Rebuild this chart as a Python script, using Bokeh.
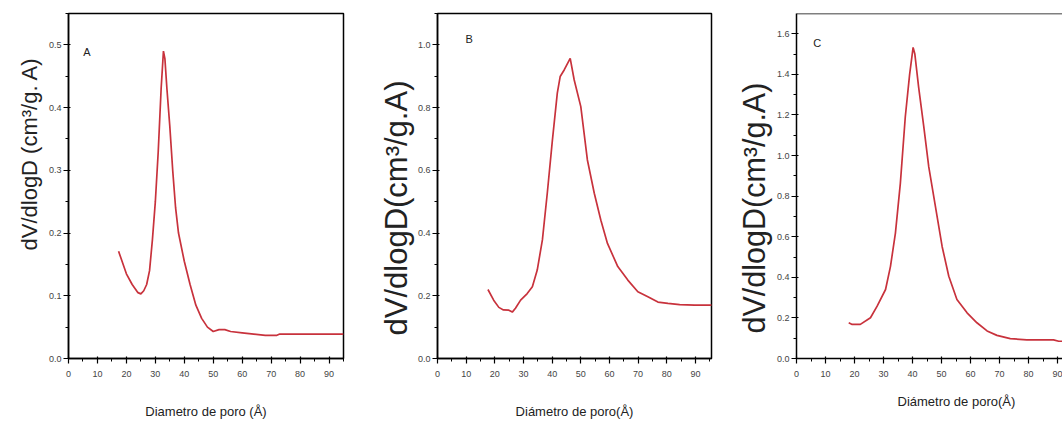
from bokeh.plotting import figure
from bokeh.models import SingleIntervalTicker, Range1d, Label, Span, PrintfTickFormatter, Title
from bokeh.layouts import row
from bokeh.embed import file_html
from bokeh.resources import INLINE

# ---- data ----
xA = [17.3, 18.5, 20, 22, 24, 25, 26, 27, 28, 29, 30, 31, 32, 32.8, 33.3, 34, 35, 36, 37, 38,
      40, 42, 44, 46, 48, 50, 52, 54, 56, 60, 64, 68, 72, 73, 80, 95]
yA = [0.171, 0.155, 0.135, 0.118, 0.105, 0.103, 0.108, 0.118, 0.140, 0.190, 0.250, 0.330, 0.430,
      0.490, 0.478, 0.430, 0.370, 0.300, 0.240, 0.200, 0.155, 0.118, 0.085, 0.064, 0.050, 0.043,
      0.046, 0.046, 0.043, 0.041, 0.039, 0.037, 0.037, 0.039, 0.039, 0.039]

xB = [17.6, 19.6, 21.4, 23, 24.9, 26.1, 27.2, 29, 31.3, 33.1, 34.8, 36.6, 38.3, 40.1, 41.8, 42.8,
      44.2, 46.3, 47.7, 50, 52.3, 54.7, 57, 59.3, 62.9, 66.4, 69.9, 73.4, 76.9, 80.4, 84.5, 89.7, 95.7]
yB = [0.220, 0.186, 0.163, 0.155, 0.154, 0.148, 0.160, 0.186, 0.207, 0.229, 0.282, 0.378, 0.527,
      0.697, 0.846, 0.899, 0.920, 0.957, 0.888, 0.803, 0.633, 0.527, 0.441, 0.367, 0.293, 0.250,
      0.213, 0.197, 0.180, 0.176, 0.172, 0.170, 0.170]

xC = [18.0, 19.2, 22, 25.5, 27.8, 30.7, 32.4, 34.1, 35.8, 37.5, 39, 40.2, 40.8, 42.1, 43.9, 45.6,
      47.9, 50.2, 52.5, 55.3, 58.8, 62.2, 65.7, 69.1, 73.7, 79.4, 86.3, 88.6, 90.4, 92.5]
yC = [0.176, 0.168, 0.168, 0.201, 0.258, 0.340, 0.454, 0.618, 0.863, 1.190, 1.400, 1.533, 1.500,
      1.337, 1.140, 0.944, 0.748, 0.552, 0.405, 0.291, 0.225, 0.176, 0.136, 0.114, 0.098, 0.092,
      0.092, 0.092, 0.085, 0.085]

panel_letters = ["A", "B", "C"]
x_labels = ["Diametro de poro (Å)", "Diámetro de poro(Å)", "Diámetro de poro(Å)"]
y_labels = ["dV/dlogD (cm³/g. A)", "dV/dlogD(cm³/g.A)", "dV/dlogD(cm³/g.A)"]
y_ends = [0.55, 1.1, 1.7]
y_steps = [0.1, 0.2, 0.2]
x_ends = [95, 95.6, 91.7]

LINE = "#c8323c"
FONT = "Liberation Sans"


def make_panel(x, y, letter, xlab, ylab, xend, yend, ystep, width, bl, br,
               letter_pos, ylab_size, ylab_offset, ylab_standoff, xlab_standoff,
               xlab_title=None, outline=True):
    p = figure(width=width, height=424, output_backend="svg", toolbar_location=None,
               x_range=Range1d(0, xend), y_range=Range1d(0, yend),
               min_border_left=bl, min_border_right=br, min_border_top=13,
               min_border_bottom=66)
    p.background_fill_color = "white"
    p.border_fill_color = "white"
    p.grid.visible = False
    if outline:
        p.outline_line_color = "black"
        p.outline_line_width = 1.5
    else:
        p.outline_line_color = None
        p.add_layout(Span(location=yend, dimension="width", line_color="black", line_width=1.5))

    p.xaxis.ticker = SingleIntervalTicker(interval=10, num_minor_ticks=2)
    p.yaxis.ticker = SingleIntervalTicker(interval=ystep, num_minor_ticks=2)
    p.yaxis.formatter = PrintfTickFormatter(format="%.1f")
    for ax in (p.xaxis, p.yaxis):
        ax.axis_line_color = "black"
        ax.axis_line_width = 1.5
        ax.major_tick_line_color = "black"
        ax.minor_tick_line_color = "black"
        ax.major_tick_line_width = 1.2
        ax.minor_tick_line_width = 1
        ax.major_tick_in = 2
        ax.major_tick_out = 5
        ax.minor_tick_in = 0
        ax.minor_tick_out = 3
        ax.major_label_text_font = FONT
        ax.major_label_text_font_size = "9px"
        ax.major_label_text_color = "#444444"
        ax.axis_label_text_font = FONT
        ax.axis_label_text_font_style = "normal"
        ax.axis_label_text_color = "#222222"
    p.xaxis.major_label_standoff = 7
    p.yaxis.major_label_standoff = 2

    if xlab_title is None:
        p.xaxis.axis_label = xlab
        p.xaxis.axis_label_text_font_size = "13px"
        p.xaxis.axis_label_standoff = xlab_standoff
    else:
        p.add_layout(Title(text=xlab, align="left", offset=xlab_title, standoff=xlab_standoff,
                           text_font=FONT, text_font_size="13px", text_font_style="normal",
                           text_color="#222222"), "below")

    # y-axis title as a side-panel title so it can sit off-centre like the original
    p.add_layout(Title(text=ylab, align="left", offset=ylab_offset, standoff=ylab_standoff,
                       text_font=FONT, text_font_size=ylab_size, text_font_style="normal",
                       text_color="#222222"), "left")

    p.line(x, y, line_color=LINE, line_width=1.7)
    p.add_layout(Label(x=letter_pos[0], y=letter_pos[1], text=letter, text_font=FONT,
                       text_font_size="11px", text_color="#222222"))
    return p


pA = make_panel(xA, yA, panel_letters[0], x_labels[0], y_labels[0], x_ends[0], y_ends[0],
                y_steps[0], 360, 68, 17, (5.1, 0.479), "22px", 108, 8, 24)
pB = make_panel(xB, yB, panel_letters[1], x_labels[1], y_labels[1], x_ends[1], y_ends[1],
                y_steps[1], 360, 77, 9, (9.8, 0.998), "31px", 23, 2, 24)
pC = make_panel(xC, yC, panel_letters[2], x_labels[2], y_labels[2], x_ends[2], y_ends[2],
                y_steps[2], 342, 76, 0, (5.75, 1.524), "30.5px", 25, 6, 25,
                xlab_title=101, outline=False)

layout = row(pA, pB, pC)
open("out.html", "w").write(file_html(layout, INLINE))
